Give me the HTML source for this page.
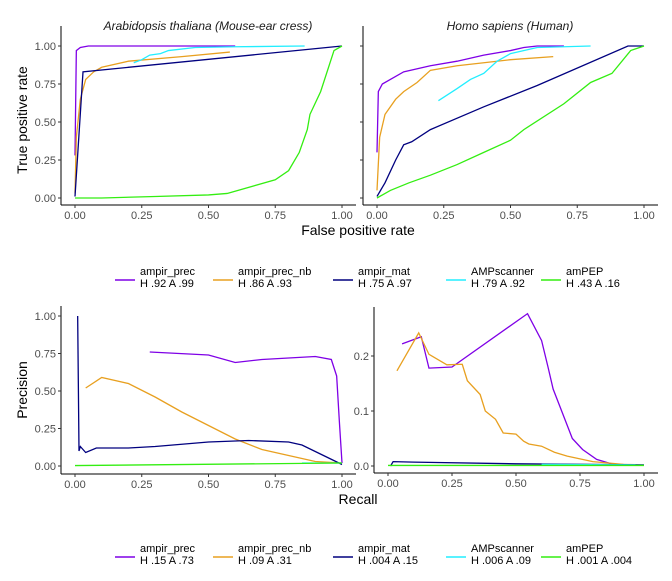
<!DOCTYPE html>
<html><head><meta charset="utf-8"><style>
body{margin:0;background:#fff;font-family:"Liberation Sans",sans-serif}
svg text{font-family:"Liberation Sans",sans-serif}
</style></head><body>
<svg id="c" width="672" height="576" xmlns="http://www.w3.org/2000/svg"></svg>
<script>
const seriesNames=["ampir_prec","ampir_prec_nb","ampir_mat","AMPscanner","amPEP"];
const colors=["#7f00e6","#e8a020","#00007f","#22eeff","#33ee11"];
const rocLegend=["H .92 A .99","H .86 A .93","H .75 A .97","H .79 A .92","H .43 A .16"];
const prLegend=["H .15 A .73","H .09 A .31","H .004 A .15","H .006 A .09","H .001 A .004"];
const xTicks=[0,0.25,0.5,0.75,1];
const xTickLabels=["0.00","0.25","0.50","0.75","1.00"];
const yTicksA=[0,0.25,0.5,0.75,1];
const yTickLabelsA=["0.00","0.25","0.50","0.75","1.00"];
const yTicksB=[0,0.1,0.2];
const yTickLabelsB=["0.0","0.1","0.2"];
const rocAth=[
[[0,0.28],[0.005,0.97],[0.02,0.99],[0.05,1],[0.6,1]],
[[0,0.03],[0.005,0.4],[0.02,0.65],[0.04,0.78],[0.07,0.83],[0.1,0.86],[0.2,0.9],[0.4,0.93],[0.58,0.96]],
[[0,0.01],[0.03,0.83],[1,1]],
[[0.22,0.89],[0.25,0.91],[0.28,0.94],[0.32,0.95],[0.35,0.97],[0.45,0.99],[0.6,0.995],[0.86,1]],
[[0,0],[0.1,0],[0.3,0.01],[0.5,0.02],[0.57,0.03],[0.75,0.12],[0.8,0.18],[0.84,0.3],[0.87,0.45],[0.88,0.55],[0.92,0.7],[0.97,0.97],[1,1]]];
const rocHs=[
[[0,0.3],[0.005,0.7],[0.02,0.75],[0.05,0.78],[0.1,0.83],[0.2,0.87],[0.3,0.9],[0.4,0.94],[0.5,0.97],[0.55,0.99],[0.6,1],[0.7,1]],
[[0,0.05],[0.01,0.4],[0.03,0.55],[0.07,0.65],[0.1,0.7],[0.15,0.76],[0.2,0.84],[0.3,0.87],[0.4,0.89],[0.5,0.91],[0.66,0.93]],
[[0,0.01],[0.03,0.1],[0.07,0.25],[0.1,0.35],[0.13,0.37],[0.2,0.45],[0.4,0.6],[0.6,0.74],[0.94,1],[1,1]],
[[0.23,0.64],[0.3,0.72],[0.35,0.78],[0.4,0.82],[0.45,0.9],[0.5,0.95],[0.6,0.99],[0.8,1]],
[[0,0],[0.05,0.05],[0.12,0.1],[0.2,0.15],[0.3,0.22],[0.4,0.3],[0.5,0.38],[0.55,0.45],[0.7,0.62],[0.8,0.76],[0.88,0.82],[0.95,0.97],[1,1]]];
const prAth=[
[[0.28,0.76],[0.5,0.74],[0.6,0.69],[0.7,0.71],[0.9,0.73],[0.96,0.71],[0.98,0.6],[0.99,0.3],[1,0.02]],
[[0.04,0.52],[0.1,0.59],[0.2,0.55],[0.3,0.46],[0.4,0.36],[0.5,0.27],[0.6,0.18],[0.7,0.11],[0.8,0.07],[0.9,0.03],[1,0.02]],
[[0.01,1],[0.015,0.1],[0.02,0.13],[0.04,0.09],[0.08,0.12],[0.2,0.12],[0.3,0.13],[0.5,0.16],[0.65,0.17],[0.8,0.16],[0.85,0.14],[1,0.01]],
[[0.85,0.02],[1,0.02]],
[[0,0.003],[1,0.02]]];
const prHs=[
[[0.055,0.222],[0.13,0.235],[0.16,0.178],[0.25,0.18],[0.545,0.277],[0.6,0.228],[0.625,0.18],[0.645,0.14],[0.67,0.11],[0.72,0.05],[0.76,0.03],[0.815,0.012],[0.88,0.003],[1,0.002]],
[[0.035,0.173],[0.12,0.242],[0.16,0.203],[0.23,0.184],[0.29,0.185],[0.31,0.155],[0.36,0.13],[0.38,0.1],[0.42,0.085],[0.45,0.06],[0.5,0.058],[0.53,0.045],[0.55,0.04],[0.6,0.036],[0.65,0.025],[0.7,0.018],[0.8,0.008],[0.92,0.003],[1,0.002]],
[[0.01,0],[0.02,0.008],[0.1,0.007],[0.5,0.004],[1,0.002]],
[[0.6,0.003],[1,0.002]],
[[0,0.001],[1,0.001]]];

const svg=document.getElementById('c');
const NS="http://www.w3.org/2000/svg";
function mk(tag,attrs,parent){const e=document.createElementNS(NS,tag);for(const k in attrs)e.setAttribute(k,attrs[k]);(parent||svg).appendChild(e);return e;}
function txt(x,y,s,attrs,parent){const t=mk('text',Object.assign({x:x,y:y},attrs),parent);t.textContent=s;return t;}

function panel(name,p,data,yT,yL,showY){
  const g=mk('g',{});
  
  
  const sx=v=>p.x0+v*(p.x1-p.x0);
  const sy=v=>p.y0-(v-0)/(p.ymax)*(p.y0-p.y1);
  mk('line',{x1:p.ax,y1:p.top,x2:p.ax,y2:p.ab,stroke:'#000','stroke-width':1},g);
  mk('line',{x1:p.ax,y1:p.ab,x2:p.right,y2:p.ab,stroke:'#000','stroke-width':1},g);
  xTicks.forEach((v,i)=>{
    mk('line',{x1:sx(v),y1:p.ab,x2:sx(v),y2:p.ab+3,stroke:'#333'},g);
    const t=txt(sx(v),p.ab+14,xTickLabels[i],{'font-size':11,fill:'#4d4d4d','text-anchor':'middle'},g);
    
    
  });
  yT.forEach((v,i)=>{
    mk('line',{x1:p.ax-3,y1:sy(v),x2:p.ax,y2:sy(v),stroke:'#333'},g);
    if(showY){const t=txt(p.ax-5,sy(v)+4,yL[i],{'font-size':11,fill:'#4d4d4d','text-anchor':'end'},g);
    
    }
  });
  data.forEach((s,i)=>{
    const pl=mk('polyline',{points:s.map(d=>sx(d[0])+','+sy(d[1])).join(' '),fill:'none',stroke:colors[i],'stroke-width':1.3},g);
    
    
  });
}
panel('roc-arabidopsis',{x0:75,x1:342,y0:198,y1:46,ymax:1,ax:61,ab:205,top:26,right:356},rocAth,yTicksA,yTickLabelsA,true);
panel('roc-human',{x0:377,x1:644,y0:198,y1:46,ymax:1,ax:363,ab:205,top:26,right:658},rocHs,yTicksA,yTickLabelsA,false);
panel('pr-arabidopsis',{x0:75,x1:342,y0:466,y1:316,ymax:1,ax:61,ab:474,top:306,right:356},prAth,yTicksA,yTickLabelsA,true);
panel('pr-human',{x0:388,x1:644,y0:466,y1:411,ymax:0.1,ax:374,ab:473,top:307,right:658},prHs,yTicksB,yTickLabelsB,true);

function lab(x,y,s,name,extra){const t=txt(x,y,s,Object.assign({'font-size':13,fill:'#000','text-anchor':'middle'},extra||{}));
return t;}
lab(208,30,'Arabidopsis thaliana (Mouse-ear cress)','strip-title-arabidopsis',{'font-style':'italic','font-size':12,fill:'#1a1a1a'});
lab(510,30,'Homo sapiens (Human)','strip-title-human',{'font-style':'italic','font-size':12,fill:'#1a1a1a'});
lab(358,235,'False positive rate','x-axis-title-roc',{'font-size':14});
lab(358,504,'Recall','x-axis-title-pr',{'font-size':14});
lab(0,0,'True positive rate','y-axis-title-roc',{'font-size':14,transform:'translate(27,120) rotate(-90)'});
lab(0,0,'Precision','y-axis-title-pr',{'font-size':14,transform:'translate(27,390) rotate(-90)'});

function legend(y,labels,name){
  const g=mk('g',{});
  
  
  const xs=[115,213,333,446,541];
  labels.forEach((l,i)=>{
    const e=mk('g',{},g);
    
    
    mk('line',{x1:xs[i],y1:y+5,x2:xs[i]+20,y2:y+5,stroke:colors[i],'stroke-width':1.5},e);
    txt(xs[i]+25,y,seriesNames[i],{'font-size':11,fill:'#000'},e);
    txt(xs[i]+25,y+12,l,{'font-size':11,fill:'#000'},e);
  });
}
legend(275,rocLegend,'legend-roc');
legend(552,prLegend,'legend-pr');
</script>
</body></html>
